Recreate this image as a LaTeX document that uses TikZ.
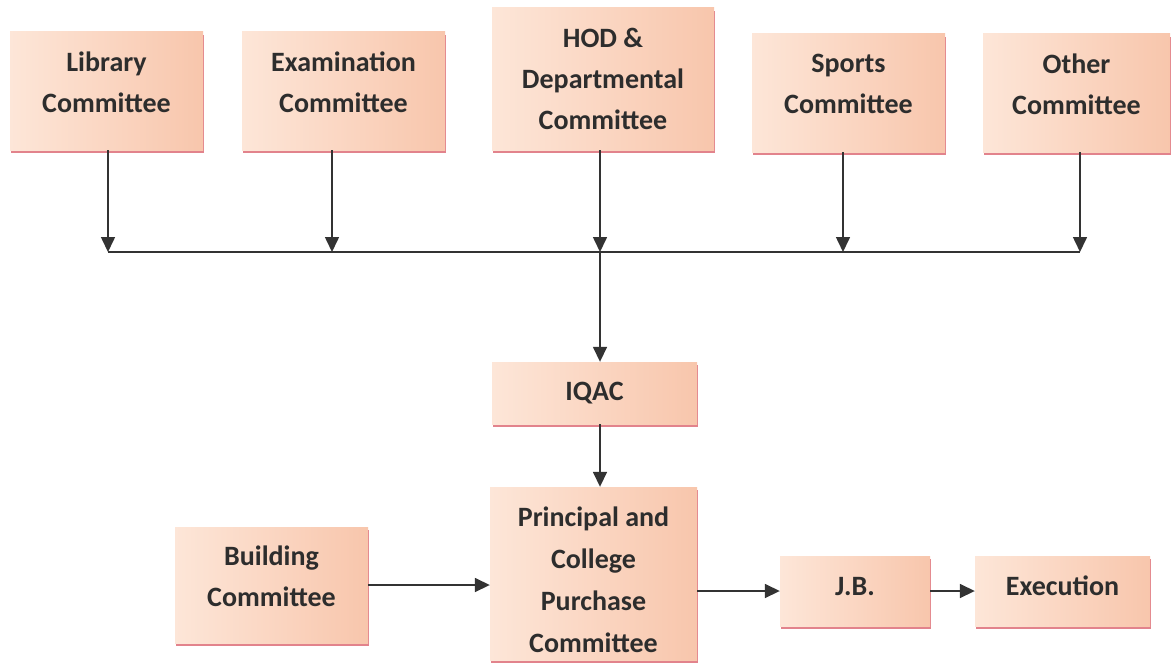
\documentclass[tikz,border=0pt]{standalone}
\usepackage{fontspec}
\setmainfont{Carlito}
\usetikzlibrary{shadows,arrows.meta}
\definecolor{peach}{RGB}{248,198,172}
\definecolor{peachlight}{RGB}{253,230,216}
\definecolor{shadowc}{RGB}{222,110,120}
\definecolor{txt}{RGB}{45,45,45}
\begin{document}
\begin{tikzpicture}[x=1pt,y=-1pt,
  box/.style={draw=none, left color=peachlight, right color=peach,
    drop shadow={shadow xshift=1pt, shadow yshift=-3pt, fill=shadowc, opacity=0.85},
    font=\bfseries\fontsize{28}{41}\selectfont, text=txt, align=center, inner sep=0pt},
  raise/.style={text depth=#1},
  arr/.style={-{Triangle[length=15pt,width=14pt]}, line width=1.6pt, draw=black!80},
  busline/.style={line width=1.8pt, draw=black!80}]
\useasboundingbox (0,0) rectangle (1172,669);
\fill[white] (0,0) rectangle (1172,669);
% top row
\node[box, raise=18pt, minimum width=193, minimum height=118] (lib) at (106.5,91) {Library\\Committee};
\node[box, raise=18pt, minimum width=203, minimum height=118] (exam) at (343.5,91) {Examination\\Committee};
\node[box, minimum width=222, minimum height=142] (hod) at (603,79) {HOD \&\\Departmental\\Committee};
\node[box, raise=18pt, minimum width=193, minimum height=118] (spo) at (848.5,93) {Sports\\Committee};
\node[box, raise=18pt, minimum width=187, minimum height=118] (oth) at (1076.5,93) {Other\\Committee};
% middle and bottom
\node[box, minimum width=205, minimum height=62] (iqac) at (594.5,393) {IQAC};
\node[box, font=\bfseries\fontsize{28}{42}\selectfont, minimum width=207, minimum height=173] (pcp) at (593.5,573.5) {\rule{0pt}{32pt}Principal and\\College\\Purchase\\Committee};
\node[box, raise=18pt, minimum width=193, minimum height=116] (bld) at (271.5,585) {Building\\Committee};
\node[box, raise=10pt, minimum width=150, minimum height=70] (jb) at (855,591) {J.B.};
\node[box, raise=10pt, minimum width=175, minimum height=70] (exe) at (1062.5,591) {Execution};
% bus coordinates
\coordinate (b1) at (108,252);
\coordinate (b2) at (332,252);
\coordinate (b3) at (600,252);
\coordinate (b4) at (843,252);
\coordinate (b5) at (1080,252);
\draw[busline] (b1) -- (b5);
\draw[arr] (lib.south -| b1) -- (b1);
\draw[arr] (exam.south -| b2) -- (b2);
\draw[arr] (hod.south -| b3) -- (b3);
\draw[arr] (spo.south -| b4) -- (b4);
\draw[arr] (oth.south -| b5) -- (b5);
\draw[arr] (b3) -- (iqac.north -| b3);
\draw[arr] (iqac.south -| b3) -- (pcp.north -| b3);
\draw[arr] (bld.east) -- (bld.east -| pcp.west);
\draw[arr] (pcp.east |- jb.west) -- (jb.west);
\draw[arr] (jb.east) -- (exe.west);
\end{tikzpicture}
\end{document}
